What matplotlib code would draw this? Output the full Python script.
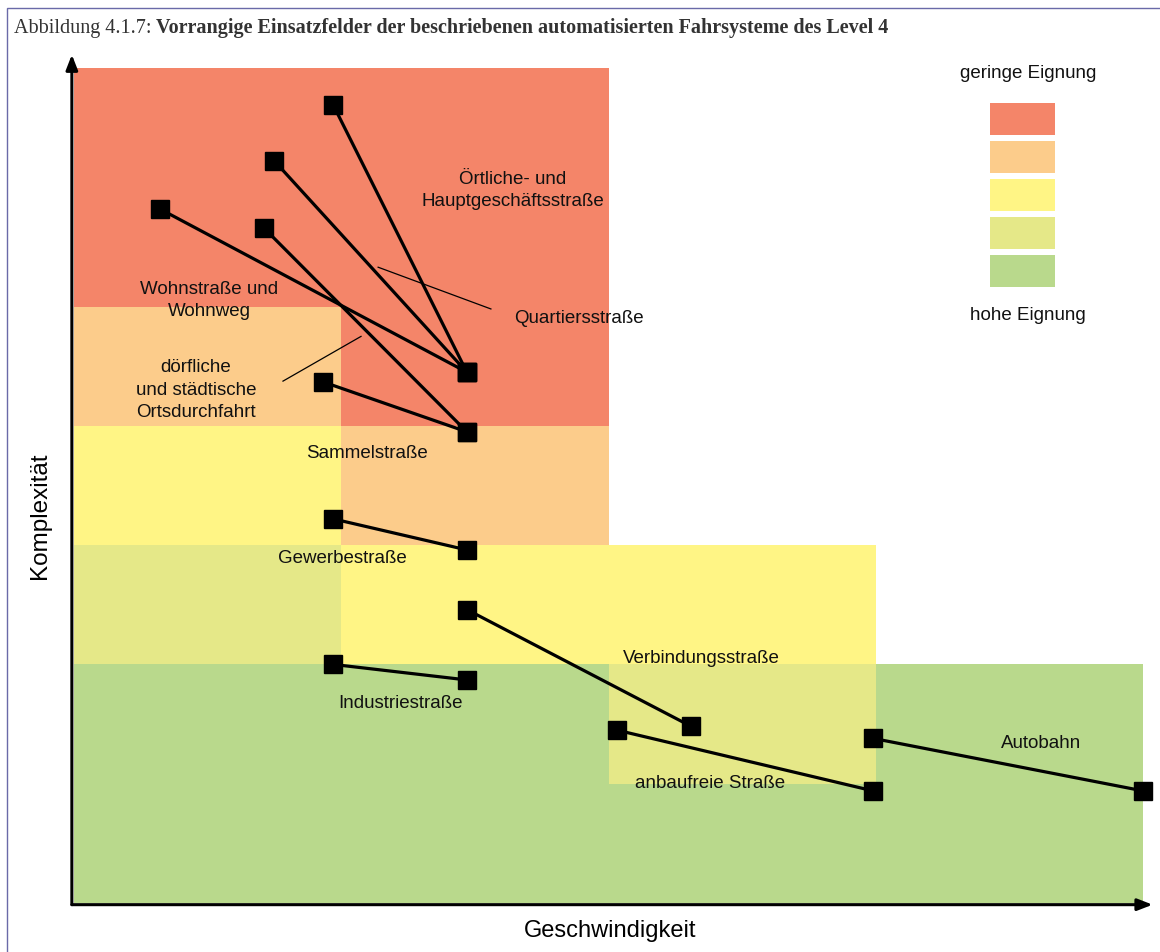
import matplotlib
matplotlib.use('Agg')
from matplotlib import pyplot as plt
from matplotlib.patches import Rectangle

# suitability colours, index 0 = hohe Eignung ... 4 = geringe Eignung
level_colors = ['#b9d98c', '#e5e888', '#fff585', '#fccc8b', '#f48569']

# level per column (speed class) and row (complexity class), from bottom
col_levels = [
    [0, 0, 1, 2, 3, 4, 4],
    [0, 0, 2, 3, 4, 4, 4],
    [0, 1, 2],
    [0, 0],
]

# road types: start / end point (speed, complexity)
roads = ['Örtliche- und Hauptgeschäftsstraße', 'Quartiersstraße', 'Wohnstraße und Wohnweg',
         'dörfliche und städtische Ortsdurchfahrt', 'Sammelstraße', 'Gewerbestraße',
         'Verbindungsstraße', 'Industriestraße', 'anbaufreie Straße', 'Autobahn']
x_start = [0.97, 0.75, 0.32, 0.71, 0.93, 0.97, 1.47, 0.97, 2.03, 2.99]
y_start = [6.69, 6.22, 5.82, 5.66, 4.37, 3.22, 2.46, 2.00, 1.45, 1.38]
x_end = [1.47, 1.47, 1.47, 1.47, 1.47, 1.47, 2.31, 1.47, 2.99, 4.00]
y_end = [4.45, 4.45, 4.45, 3.95, 3.95, 2.96, 1.48, 1.87, 0.94, 0.94]

# labels
label_text = ['Örtliche- und\nHauptgeschäftsstraße', 'Quartiersstraße', 'Wohnstraße und\nWohnweg',
              'dörfliche\nund städtische\nOrtsdurchfahrt', 'Sammelstraße', 'Gewerbestraße',
              'Verbindungsstraße', 'Industriestraße', 'anbaufreie Straße', 'Autobahn']
label_x = [1.643, 1.89, 0.505, 0.456, 1.096, 1.003, 2.346, 1.22, 2.38, 3.62]
label_y = [5.97, 4.90, 5.05, 4.30, 3.77, 2.89, 2.05, 1.675, 1.00, 1.34]

# leader lines (Quartiersstraße, Ortsdurchfahrt)
leader_x = [[1.138, 1.56], [0.782, 1.074]]
leader_y = [[5.33, 4.98], [4.375, 4.75]]

W, H = 1160, 952
fig = plt.figure(figsize=(W / 100, H / 100), dpi=100)
plt.rcParams['font.family'] = ['Liberation Sans', 'DejaVu Sans']

ax = fig.add_axes([74 / W, (H - 903) / H, 1069 / W, 835 / H])
ax.set_xlim(0, 4)
ax.set_ylim(0, 7)

for col, levels in enumerate(col_levels):
    for row, lv in enumerate(levels):
        ax.bar(col, 1, bottom=row, width=1, align='edge', color=level_colors[lv],
               linewidth=0, zorder=1)

for lx, ly in zip(leader_x, leader_y):
    ax.plot(lx, ly, color='black', lw=0.9, zorder=2)

for xs, ys, xe, ye in zip(x_start, y_start, x_end, y_end):
    ax.plot([xs, xe], [ys, ye], color='black', lw=2.3, marker='s', ms=13.5,
            solid_capstyle='butt', zorder=3, clip_on=False)

for t, x, y in zip(label_text, label_x, label_y):
    ax.text(x, y, t, ha='center', va='center', fontsize=13.5, linespacing=1.4,
            color='#111111', zorder=4)

for s in ax.spines.values():
    s.set_visible(False)
ax.set_xticks([])
ax.set_yticks([])

# axis arrows
ax.annotate('', xy=(-0.002, 1.016), xytext=(-0.002, -0.002), xycoords='axes fraction',
            arrowprops=dict(arrowstyle='-|>,head_length=0.9,head_width=0.35', lw=2.2,
                            color='black', shrinkA=0, shrinkB=0))
ax.annotate('', xy=(1.009, -0.002), xytext=(-0.002, -0.002), xycoords='axes fraction',
            arrowprops=dict(arrowstyle='-|>,head_length=0.9,head_width=0.35', lw=2.2,
                            color='black', shrinkA=0, shrinkB=0))

fig.text(610 / W, 1 - 931 / H, 'Geschwindigkeit', ha='center', va='center', fontsize=17)
fig.text(40 / W, 1 - 516 / H, 'Komplexität', ha='center', va='center', fontsize=17.5,
         rotation=90)

# legend
lax = fig.add_axes([990 / W, 1 - 290 / H, 65 / W, 190 / H])
lax.set_xlim(0, 1)
lax.set_ylim(0, 5)
lax.bar([0.5] * 5, [0.84] * 5, bottom=[0.08, 1.08, 2.08, 3.08, 4.08], width=1,
        color=level_colors, linewidth=0)
lax.axis('off')
fig.text(1028 / W, 1 - 73 / H, 'geringe Eignung', ha='center', va='center', fontsize=13.5,
         color='#111111')
fig.text(1028 / W, 1 - 316 / H, 'hohe Eignung', ha='center', va='center', fontsize=13.5,
         color='#111111')

# caption and frame
t1 = fig.text(14 / W, 1 - 28 / H, 'Abbildung 4.1.7: ', ha='left', va='center',
              family='Liberation Serif', fontsize=14.5, color='#333333')
ax.annotate('Vorrangige Einsatzfelder der beschriebenen automatisierten Fahrsysteme des Level 4',
            xy=(1, 0.5), xycoords=t1, ha='left', va='center', family='Liberation Serif',
            fontsize=14.5, weight='bold', color='#333333', annotation_clip=False)
fig.patches.append(Rectangle((6.5 / W, -0.05), 1.2, 1 - 7.5 / H + 0.05, transform=fig.transFigure,
                             fill=False, edgecolor='#6a6aa8', lw=1))

fig.savefig('out.png', dpi=100)
